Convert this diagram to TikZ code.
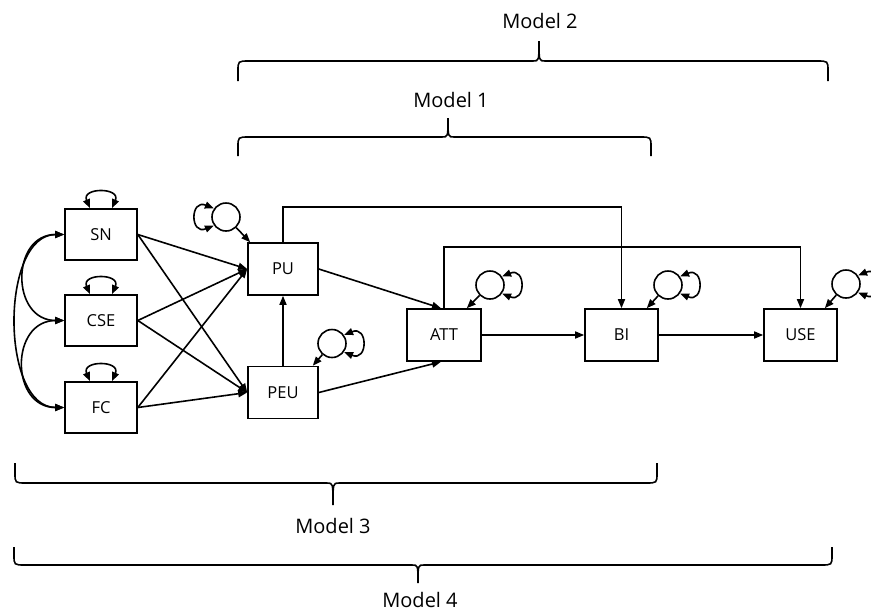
\documentclass[tikz,border=0pt]{standalone}
\usepackage{fontspec}
\setmainfont{Open Sans}
\usetikzlibrary{arrows.meta,calc}
\begin{document}
\begin{tikzpicture}[x=1pt,y=-1pt,
  line width=1.6pt,
  >={Triangle[length=9pt,width=7pt]},
  box/.style={draw,inner sep=0pt,minimum height=51pt,font=\fontsize{16.5}{20}\selectfont},
  err/.style={draw,circle,minimum size=28pt,inner sep=0pt},
  modellab/.style={font=\fontsize{20}{24}\selectfont,inner sep=0pt},
  brace/.style={line width=1.6pt}]
\useasboundingbox (0,0) rectangle (871,611);
\clip (0,0) rectangle (871,611);

% boxes
\node[box,minimum width=72pt] (SN)  at (101,234.5) {SN};
\node[box,minimum width=72pt] (CSE) at (101,320.5) {CSE};
\node[box,minimum width=72pt] (FC)  at (101,407.5) {FC};
\node[box,minimum width=70pt,minimum height=52pt] (PU)  at (283,269) {PU};
\node[box,minimum width=70pt,minimum height=52pt] (PEU) at (283,392.5) {PEU};
\node[box,minimum width=74pt,minimum height=52pt] (ATT) at (444,335) {ATT};
\node[box,minimum width=73pt,minimum height=52pt] (BI)  at (621.5,335) {BI};
\node[box,minimum width=73pt,minimum height=52pt] (USE) at (800.5,335) {USE};

% error circles
\node[err] (ePU)  at (226,217) {};
\node[err] (ePEU) at (332,343.5) {};
\node[err] (eATT) at (490,285) {};
\node[err] (eBI)  at (668,285) {};
\node[err] (eUSE) at (846,284) {};

% self loops of exogenous boxes
\foreach \n in {SN,CSE,FC}{
  \draw[<->] ([xshift=-11pt]\n.north) .. controls +(-9,-21) and +(9,-21) .. ([xshift=11pt]\n.north);
}

% covariances
\draw[<->] (SN.west) to[out=180,in=180,looseness=1.6] (CSE.west);
\draw[<->] (CSE.west) to[out=180,in=180,looseness=1.6] (FC.west);
\draw[<->] (SN.west) to[out=180,in=180,looseness=0.95] (FC.west);

% error loops
\draw[<->] (ePU.145) .. controls +(-24,-10) and +(-24,10) .. (ePU.215);
\foreach \e in {ePEU,eATT,eBI,eUSE}{
  \draw[<->] (\e.35) .. controls +(24,-10) and +(24,10) .. (\e.-35);
}
\draw[->] (ePU) -- ([xshift=3pt]PU.north west);
\draw[->] (ePEU) -- ([xshift=-6pt]PEU.north east);
\draw[->] (eATT) -- ([xshift=-15pt]ATT.north east);
\draw[->] (eBI) -- ([xshift=-12pt]BI.north east);
\draw[->] (eUSE) -- ([xshift=-13pt]USE.north east);

% paths
\foreach \n in {SN,CSE,FC}{
  \draw[->] (\n.east) -- (PU.west);
  \draw[->] (\n.east) -- (PEU.west);
}
\draw[->] (PEU.north) -- (PU.south);
\draw[->] (PU.east) -- ([xshift=-3pt]ATT.north);
\draw[->] (PEU.east) -- ([xshift=-3pt]ATT.south);
\draw[->] (ATT.east) -- (BI.west);
\draw[->] (BI.east) -- (USE.west);
\draw[->] (PU.north) -- ++(0,-35) -| (BI.north);
\draw[->] (ATT.north) -- ++(0,-61) -| (USE.north);

% model braces
\draw[brace] (238,81) -- (238,71) .. controls (238,61) .. (249,61) -- (533,61) .. controls (539,61) .. (539,41) .. controls (539,61) .. (545,61) -- (817,61) .. controls (828,61) .. (828,71) -- (828,81);
\draw[brace] (238,156) -- (238,147) .. controls (238,137) .. (249,137) -- (442,137) .. controls (448,137) .. (448,118) .. controls (448,137) .. (454,137) -- (640,137) .. controls (651,137) .. (651,147) -- (651,156);
\draw[brace] (15,463) -- (15,473) .. controls (15,483) .. (26,483) -- (327,483) .. controls (333,483) .. (333,505) .. controls (333,483) .. (339,483) -- (646,483) .. controls (657,483) .. (657,473) -- (657,463);
\draw[brace] (14,547) -- (14,555) .. controls (14,565) .. (25,565) -- (412,565) .. controls (418,565) .. (418,583) .. controls (418,565) .. (424,565) -- (821,565) .. controls (832,565) .. (832,555) -- (832,547);

\node[modellab] (m2) at (540,21) {Model 2};
\node[modellab] (m1) at (451,100) {Model 1};
\node[modellab] (m3) at (333,526) {Model 3};
\node[modellab] (m4) at (420,600) {Model 4};
\end{tikzpicture}
\end{document}
